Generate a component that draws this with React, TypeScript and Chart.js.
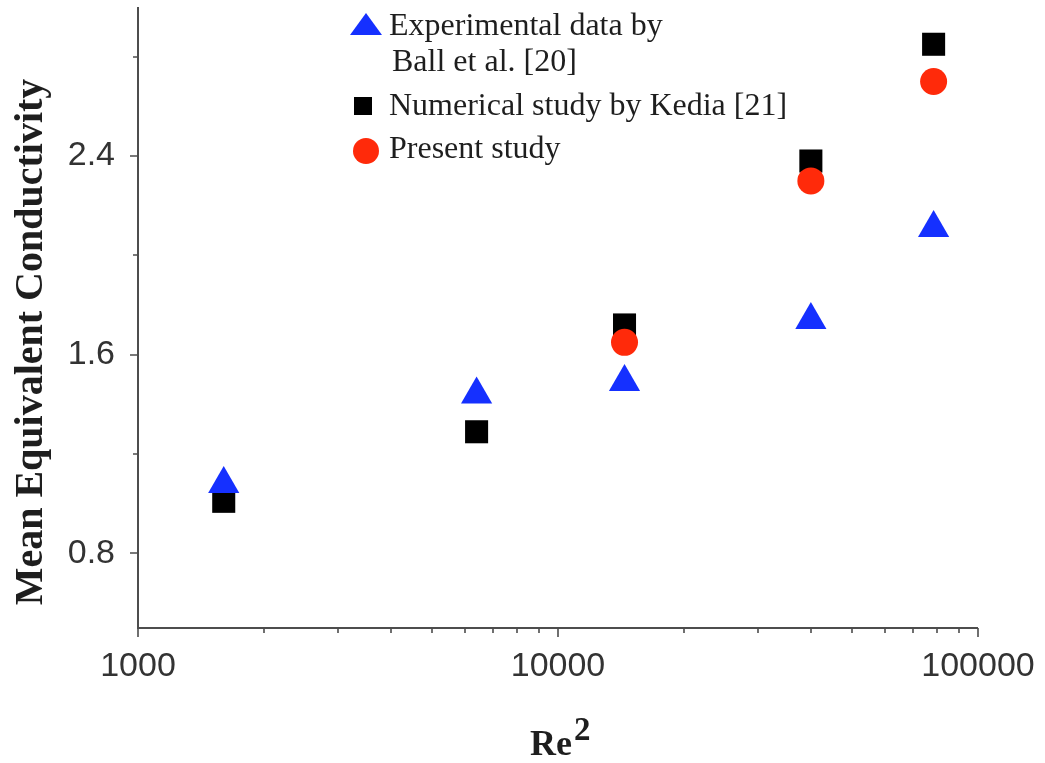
import React, { useEffect, useRef } from 'react';
import { Chart, registerables } from 'chart.js';

Chart.register(...registerables);

// ---- data ----
const reSquared = [1600, 6400, 14400, 40000, 78400];
const presentReSquared = [14400, 40000, 78400];
const ballExperimental = [1.08, 1.44, 1.49, 1.74, 2.11];
const kediaNumerical = [1.01, 1.29, 1.72, 2.38, 2.85];
const presentStudy = [1.65, 2.3, 2.7];

const xMajorTicks = [1000, 10000, 100000];
const xMinorTicks = [2000, 3000, 4000, 5000, 6000, 7000, 8000, 9000, 20000, 30000, 40000, 50000, 60000, 70000, 80000, 90000];
const yMajorTicks = [0.8, 1.6, 2.4];
const yMinorTicks = [1.2, 2.0, 2.8];

const legendLabels = [
  ['Experimental data by', 'Ball et al. [20]'],
  ['Numerical study by Kedia [21]'],
  ['Present study'],
];

const xTitle = 'Re';
const xTitleSup = '2';
const yTitle = 'Mean Equivalent Conductivity';

const SERIF = '"Liberation Serif", "Times New Roman", serif';
const SANS = '"Liberation Sans", Arial, sans-serif';

const decoPlugin = {
  id: 'deco',
  beforeDatasetsDraw(chart: any) {
    const { ctx, chartArea: a, scales } = chart;
    const x = scales.x;
    const y = scales.y;
    ctx.save();
    ctx.strokeStyle = '#4d4d4d';
    ctx.lineWidth = 2;
    ctx.beginPath();
    ctx.moveTo(a.left, a.top);
    ctx.lineTo(a.left, a.bottom);
    ctx.lineTo(a.right, a.bottom);
    ctx.stroke();
    ctx.lineWidth = 1.6;
    ctx.beginPath();
    xMajorTicks.forEach((v) => {
      const px = Math.round(x.getPixelForValue(v));
      ctx.moveTo(px, a.bottom);
      ctx.lineTo(px, a.bottom + 9);
    });
    xMinorTicks.forEach((v) => {
      const px = Math.round(x.getPixelForValue(v));
      ctx.moveTo(px, a.bottom);
      ctx.lineTo(px, a.bottom + 5);
    });
    yMajorTicks.forEach((v) => {
      const py = Math.round(y.getPixelForValue(v));
      ctx.moveTo(a.left - 8, py);
      ctx.lineTo(a.left, py);
    });
    yMinorTicks.forEach((v) => {
      const py = Math.round(y.getPixelForValue(v));
      ctx.moveTo(a.left - 5, py);
      ctx.lineTo(a.left, py);
    });
    ctx.stroke();
    ctx.restore();
  },
  afterDraw(chart: any) {
    const { ctx } = chart;
    ctx.save();
    ctx.fillStyle = '#1e1e1e';
    // y title
    ctx.save();
    ctx.translate(42, 342);
    ctx.rotate(-Math.PI / 2);
    ctx.font = `bold 40px ${SERIF}`;
    ctx.textAlign = 'center';
    ctx.textBaseline = 'alphabetic';
    ctx.fillText(yTitle, 0, 0);
    ctx.restore();
    // x title
    ctx.font = `bold 36px ${SERIF}`;
    ctx.textAlign = 'left';
    ctx.textBaseline = 'alphabetic';
    ctx.fillText(xTitle, 530, 755);
    const w = ctx.measureText(xTitle).width;
    ctx.font = `bold 33px ${SERIF}`;
    ctx.fillText(xTitleSup, 530 + w + 2, 740);

    // legend
    const markerX = 366;
    const textX = 389;
    const rows = [
      { cy: 26, baselines: [35, 71] },
      { cy: 106, baselines: [115] },
      { cy: 151, baselines: [158] },
    ];
    chart.data.datasets.forEach((ds: any, i: number) => {
      const r = rows[i];
      ctx.fillStyle = ds.backgroundColor;
      ctx.beginPath();
      if (ds.pointStyle === 'triangle') {
        ctx.moveTo(markerX, r.cy - 13);
        ctx.lineTo(markerX + 16, r.cy + 9);
        ctx.lineTo(markerX - 16, r.cy + 9);
        ctx.closePath();
      } else if (ds.pointStyle === 'rect') {
        ctx.rect(markerX - 12, r.cy - 9, 18, 18);
      } else {
        ctx.arc(markerX, r.cy, 13, 0, Math.PI * 2);
      }
      ctx.fill();
      ctx.fillStyle = '#1e1e1e';
      ctx.font = `32px ${SERIF}`;
      const lines = legendLabels[i];
      lines.forEach((t, k) => {
        ctx.fillText(t, textX + (k > 0 ? 3 : 0), r.baselines[k]);
      });
    });
    ctx.restore();
  },
};

const zeroPad = (s: any) => {
  s.paddingTop = 0;
  s.paddingBottom = 0;
  s.paddingLeft = 0;
  s.paddingRight = 0;
};

export default function App() {
  const ref = useRef<HTMLCanvasElement | null>(null);
  useEffect(() => {
    if (!ref.current) return;
    const chart = new Chart(ref.current, {
      type: 'scatter',
      data: {
        datasets: [
          {
            label: legendLabels[0].join(' '),
            data: reSquared.map((x, i) => ({ x, y: ballExperimental[i] })),
            pointStyle: 'triangle',
            pointRadius: 18,
            backgroundColor: '#1530ff',
            borderWidth: 0,
            order: 0,
          },
          {
            label: legendLabels[1].join(' '),
            data: reSquared.map((x, i) => ({ x, y: kediaNumerical[i] })),
            pointStyle: 'rect',
            pointRadius: 16.3,
            backgroundColor: '#000000',
            borderWidth: 0,
            order: 2,
          },
          {
            label: legendLabels[2].join(' '),
            data: presentReSquared.map((x, i) => ({ x, y: presentStudy[i] })),
            pointStyle: 'circle',
            pointRadius: 13.5,
            backgroundColor: '#ff2a0a',
            borderWidth: 0,
            order: 1,
          },
        ],
      } as any,
      options: {
        animation: false,
        responsive: false,
        maintainAspectRatio: false,
        layout: { autoPadding: false, padding: { top: 7, right: 67, bottom: 0, left: 0 } },
        plugins: { legend: { display: false }, tooltip: { enabled: false } },
        scales: {
          x: {
            type: 'logarithmic',
            min: 1000,
            max: 100000,
            afterBuildTicks: (s: any) => {
              s.ticks = xMajorTicks.map((v) => ({ value: v }));
            },
            afterFit: (s: any) => {
              s.height = 135;
              zeroPad(s);
            },
            ticks: {
              callback: (v: any) => String(v),
              font: { family: SANS, size: 34 },
              color: '#333333',
              padding: 18,
              maxRotation: 0,
              autoSkip: false,
            },
            grid: { display: false, drawTicks: false },
            border: { display: false },
          },
          y: {
            type: 'linear',
            min: 0.5,
            max: 3.0,
            afterBuildTicks: (s: any) => {
              s.ticks = yMajorTicks.map((v) => ({ value: v }));
            },
            afterFit: (s: any) => {
              s.width = 138;
              zeroPad(s);
            },
            ticks: {
              callback: (v: any) => Number(v).toFixed(1),
              font: { family: SANS, size: 34 },
              color: '#333333',
              padding: 23,
              autoSkip: false,
            },
            grid: { display: false, drawTicks: false },
            border: { display: false },
          },
        },
      } as any,
      plugins: [decoPlugin],
    });
    return () => chart.destroy();
  }, []);
  return (
    <div style={{ position: 'absolute', left: 0, top: 0, width: 1045, height: 763, background: '#fff' }}>
      <canvas ref={ref} width={1045} height={763} style={{ display: 'block' }} />
    </div>
  );
}
